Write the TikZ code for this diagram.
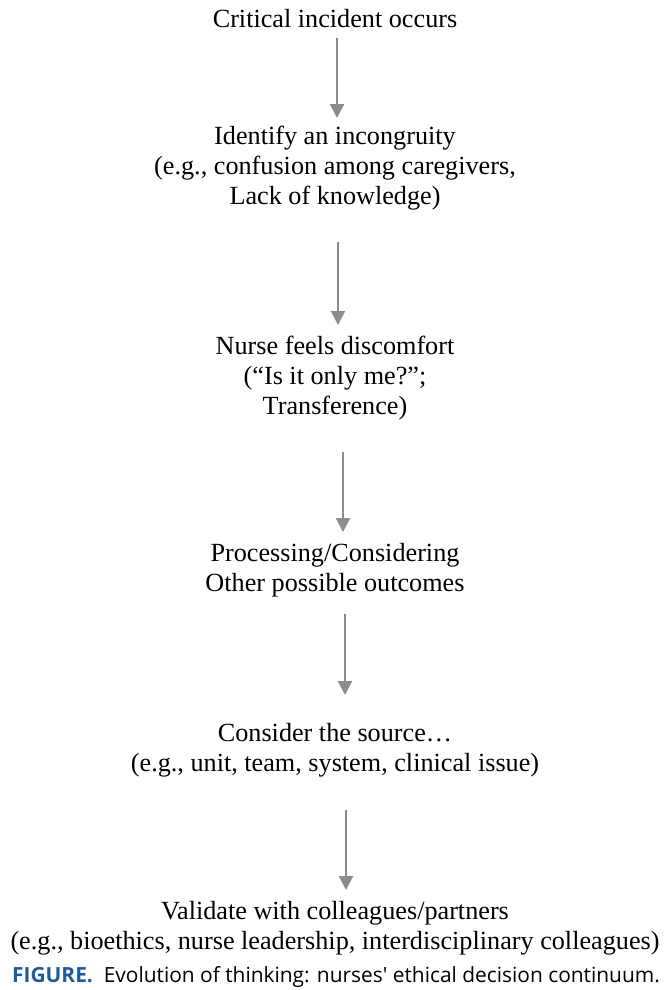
\documentclass[tikz,border=0pt]{standalone}
\usepackage{fontspec}
\setmainfont{Liberation Serif}
\newfontfamily\capfont{Open Sans}
\usetikzlibrary{arrows.meta}
\definecolor{arrowgray}{RGB}{140,140,140}
\definecolor{capblue}{RGB}{31,92,153}
\tikzstyle{step text}=[align=center, inner sep=0pt, font=\fontsize{26.2}{30}\selectfont]
\tikzstyle{flow}=[draw=arrowgray, line width=2pt, -{Triangle[width=14pt,length=14pt]}]

\begin{document}
\begin{tikzpicture}[x=1pt,y=-1pt]
      \useasboundingbox (0,0) rectangle (670,990);
      \node [step text] (incident) at (335,19) {Critical incident occurs};
      \node [step text] (incongruity) at (335,168) {Identify an incongruity\\(e.g., confusion among caregivers,\\Lack of knowledge)};
      \node [step text] (discomfort) at (335,378) {Nurse feels discomfort\\(“Is it only me?”;\\Transference)};
      \node [step text] (processing) at (335,570) {Processing/Considering\\Other possible outcomes};
      \node [step text] (source) at (335,750) {Consider the source…\\(e.g., unit, team, system, clinical issue)};
      \node [step text] (validate) at (335,928) {Validate with colleagues/partners\\(e.g., bioethics, nurse leadership, interdisciplinary colleagues)};

      \draw[flow] ([shift={(2,19)}]incident.center) -- ([shift={(2,-50)}]incongruity.center);
      \draw[flow] ([shift={(3,74)}]incongruity.center) -- ([shift={(3,-53)}]discomfort.center);
      \draw[flow] ([shift={(8,74)}]discomfort.center) -- ([shift={(8,-38)}]processing.center);
      \draw[flow] ([shift={(10,44)}]processing.center) -- ([shift={(10,-55)}]source.center);
      \draw[flow] ([shift={(11,60)}]source.center) -- ([shift={(11,-38)}]validate.center);

      % caption
      \node [inner sep=0pt, font=\capfont\fontsize{20.9}{24}\selectfont] (caption) at (336,977)
            {\textcolor{capblue}{\bfseries FIGURE.}\ \ Evolution of thinking: nurses' ethical decision continuum.};
\end{tikzpicture}
\end{document}
